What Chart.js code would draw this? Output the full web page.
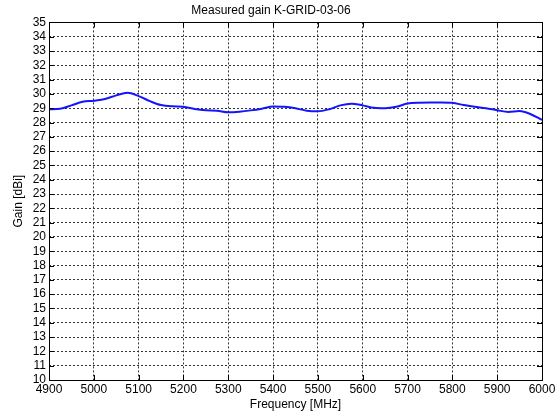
<!doctype html>
<html lang="en">
<head>
<meta charset="utf-8">
<title>Measured gain K-GRID-03-06</title>
<style>
  html, body { margin: 0; padding: 0; background: #fff; }
  .wrap { width: 560px; height: 419px; }
</style>
</head>
<body>
<div class="wrap"><canvas id="chart" width="560" height="419"></canvas></div>
<script src="https://cdn.jsdelivr.net/npm/chart.js@4.4.4/dist/chart.umd.min.js"></script>
<script>
// Frequency points (MHz) and measured gain (dBi).
const FREQ = [
  4900, 4925, 4950, 4975, 5000, 5025, 5050, 5075, 5100, 5125, 5150, 5175,
  5200, 5225, 5250, 5275, 5300, 5325, 5350, 5375, 5400, 5425, 5450, 5475,
  5500, 5525, 5550, 5575, 5600, 5625, 5650, 5675, 5700, 5725, 5750, 5775,
  5800, 5825, 5850, 5875, 5900, 5925, 5950, 5975, 6000,
];
const GAIN = [
  28.93, 28.97, 29.2, 29.45, 29.53, 29.65, 29.9, 30.08, 29.85, 29.5, 29.22, 29.13,
  29.1, 28.95, 28.86, 28.83, 28.72, 28.76, 28.85, 28.97, 29.12, 29.1, 29.0, 28.83,
  28.79, 28.93, 29.2, 29.32, 29.2, 29.03, 29.0, 29.1, 29.33, 29.39, 29.4, 29.4,
  29.38, 29.22, 29.1, 29.0, 28.86, 28.74, 28.8, 28.58, 28.18,
];

const TITLE = "Measured gain K-GRID-03-06";
const X_LABEL = "Frequency [MHz]";
const Y_LABEL = "Gain [dBi]";

const FONT = "'Liberation Sans', Arial, sans-serif";

// Closed box around the plot area plus short inward ticks, MATLAB style.
const boxPlugin = {
  id: "box",
  afterDraw(chart) {
    const { ctx, chartArea: a, scales } = chart;
    ctx.save();
    ctx.strokeStyle = "#000";
    ctx.lineWidth = 1;
    ctx.setLineDash([]);
    ctx.strokeRect(Math.round(a.left) + 0.5, Math.round(a.top) + 0.5,
      Math.round(a.right - a.left), Math.round(a.bottom - a.top));
    ctx.beginPath();
    for (const t of scales.x.ticks) {
      const x = Math.round(scales.x.getPixelForValue(t.value)) + 0.5;
      ctx.moveTo(x, a.bottom); ctx.lineTo(x, a.bottom - 5);
      ctx.moveTo(x, a.top); ctx.lineTo(x, a.top + 5);
    }
    for (const t of scales.y.ticks) {
      const y = Math.round(scales.y.getPixelForValue(t.value)) + 0.5;
      ctx.moveTo(a.left, y); ctx.lineTo(a.left + 5, y);
      ctx.moveTo(a.right, y); ctx.lineTo(a.right - 5, y);
    }
    ctx.stroke();
    ctx.restore();
  },
};

new Chart(document.getElementById("chart"), {
  type: "line",
  data: {
    datasets: [{
      data: FREQ.map((f, i) => ({ x: f, y: GAIN[i] })),
      borderColor: "#1414ff",
      borderWidth: 2,
      pointRadius: 0,
      cubicInterpolationMode: "monotone",
      fill: false,
    }],
  },
  options: {
    responsive: false,
    animation: false,
    layout: { padding: { left: 0, right: 18, top: 0, bottom: 0 } },
    plugins: {
      legend: { display: false },
      tooltip: { enabled: false },
      title: {
        display: true, text: TITLE, color: "#000",
        font: { family: FONT, size: 12, weight: "normal" },
        padding: { top: 3, bottom: 5 },
      },
    },
    scales: {
      x: {
        type: "linear", min: 4900, max: 6000,
        ticks: {
          stepSize: 100, color: "#000", font: { family: FONT, size: 12 }, padding: 2, maxRotation: 0,
          callback: (v) => String(v),
        },
        grid: { color: "#333", lineWidth: 1, tickLength: 0 },
        border: { display: false, dash: [2, 2] },
        title: { display: true, text: X_LABEL, color: "#000", font: { family: FONT, size: 12 }, padding: { top: 2, bottom: 7 } },
        afterFit(s) { s.height = 39; },
      },
      y: {
        min: 10, max: 35,
        ticks: { stepSize: 1, color: "#000", font: { family: FONT, size: 12 }, padding: 3, autoSkip: false },
        grid: { color: "#333", lineWidth: 1, tickLength: 0 },
        border: { display: false, dash: [2, 2] },
        title: { display: true, text: Y_LABEL, color: "#000", font: { family: FONT, size: 12 }, padding: { top: 11, bottom: 0 } },
        afterFit(s) { s.width = 49; },
      },
    },
  },
  plugins: [boxPlugin],
});
</script>
</body>
</html>
